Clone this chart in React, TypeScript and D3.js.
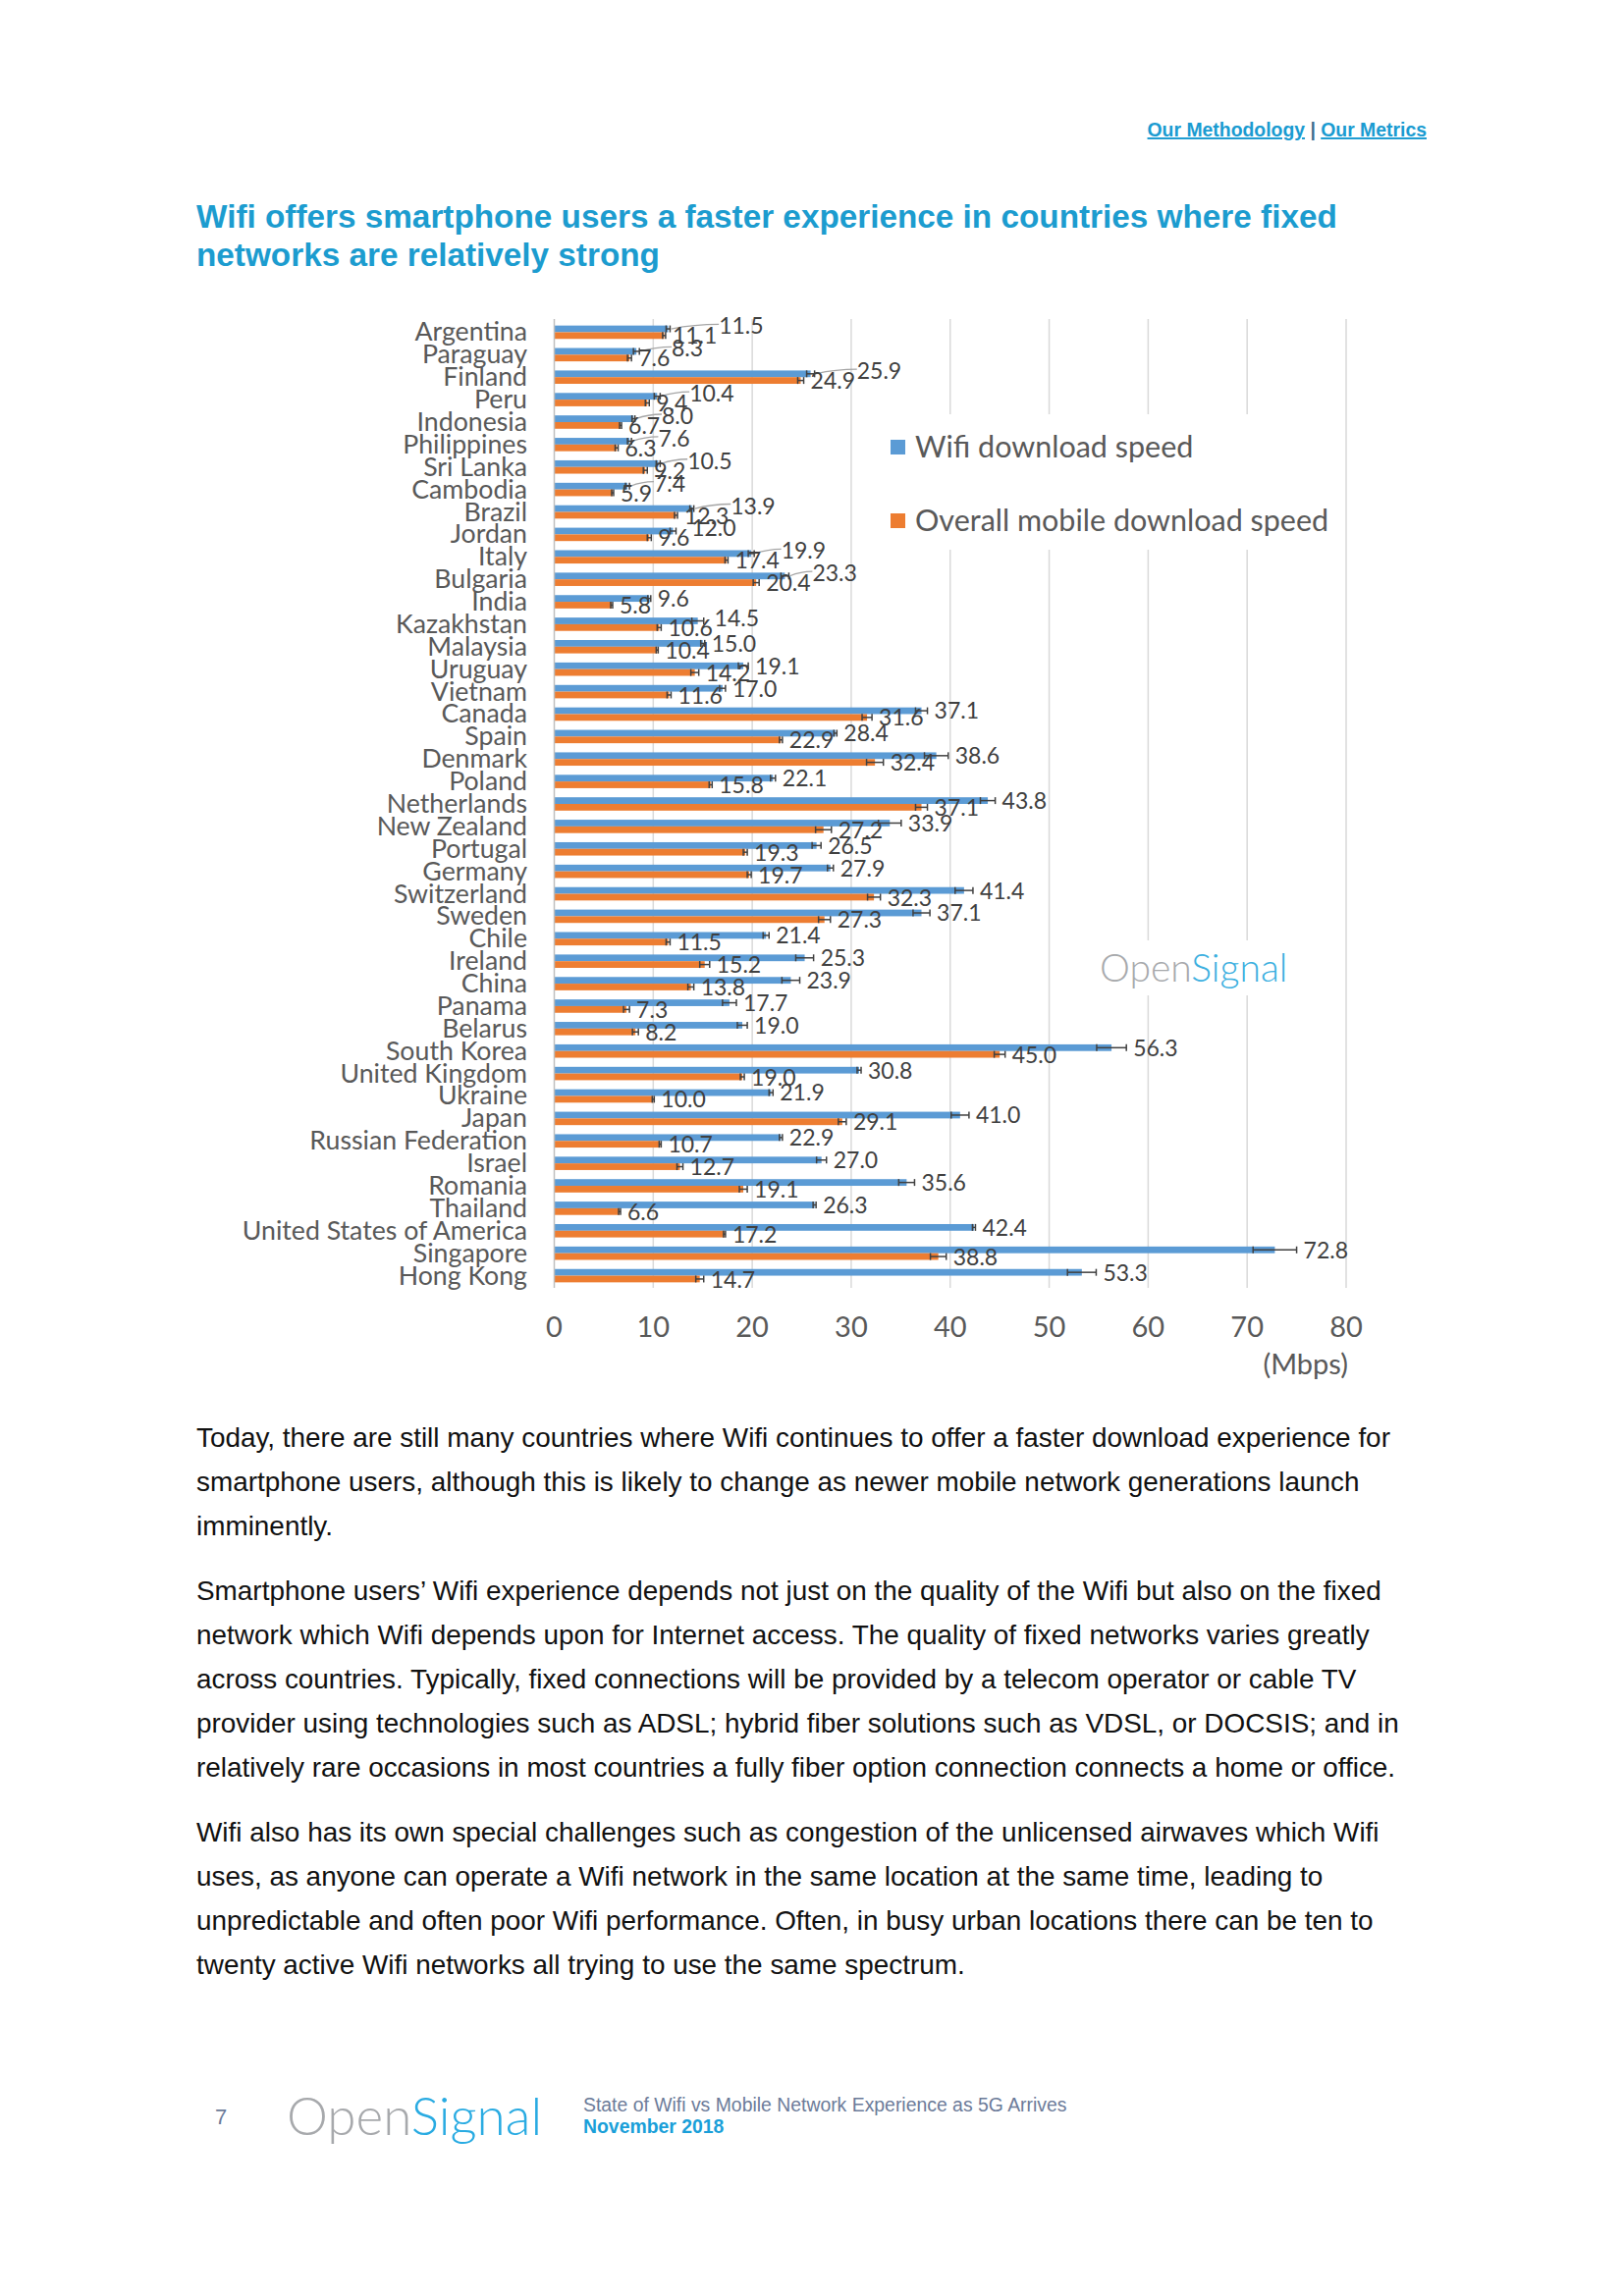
import React from 'react';
import * as d3 from 'd3';

const countries = [
  'Argentina', 'Paraguay', 'Finland', 'Peru', 'Indonesia', 'Philippines', 'Sri Lanka', 'Cambodia',
  'Brazil', 'Jordan', 'Italy', 'Bulgaria', 'India', 'Kazakhstan', 'Malaysia', 'Uruguay', 'Vietnam',
  'Canada', 'Spain', 'Denmark', 'Poland', 'Netherlands', 'New Zealand', 'Portugal', 'Germany',
  'Switzerland', 'Sweden', 'Chile', 'Ireland', 'China', 'Panama', 'Belarus', 'South Korea',
  'United Kingdom', 'Ukraine', 'Japan', 'Russian Federation', 'Israel', 'Romania', 'Thailand',
  'United States of America', 'Singapore', 'Hong Kong',
];

const wifiSpeed = [
  11.5, 8.3, 25.9, 10.4, 8.0, 7.6, 10.5, 7.4,
  13.9, 12.0, 19.9, 23.3, 9.6, 14.5, 15.0, 19.1, 17.0,
  37.1, 28.4, 38.6, 22.1, 43.8, 33.9, 26.5, 27.9,
  41.4, 37.1, 21.4, 25.3, 23.9, 17.7, 19.0, 56.3,
  30.8, 21.9, 41.0, 22.9, 27.0, 35.6, 26.3,
  42.4, 72.8, 53.3,
];

const mobileSpeed = [
  11.1, 7.6, 24.9, 9.4, 6.7, 6.3, 9.2, 5.9,
  12.3, 9.6, 17.4, 20.4, 5.8, 10.6, 10.4, 14.2, 11.6,
  31.6, 22.9, 32.4, 15.8, 37.1, 27.2, 19.3, 19.7,
  32.3, 27.3, 11.5, 15.2, 13.8, 7.3, 8.2, 45.0,
  19.0, 10.0, 29.1, 10.7, 12.7, 19.1, 6.6,
  17.2, 38.8, 14.7,
];

const wifiErr = [
  0.2, 0.3, 0.4, 0.3, 0.15, 0.2, 0.2, 0.2,
  0.2, 0.3, 0.3, 0.4, 0.15, 0.6, 0.2, 0.5, 0.3,
  0.6, 0.15, 1.2, 0.25, 0.75, 1.15, 0.45, 0.3,
  0.9, 0.85, 0.3, 0.9, 0.9, 0.7, 0.5, 1.5,
  0.2, 0.2, 0.9, 0.15, 0.5, 0.8, 0.15,
  0.15, 2.2, 1.45,
];

const mobileErr = [
  0.15, 0.2, 0.3, 0.2, 0.1, 0.15, 0.2, 0.1,
  0.15, 0.2, 0.15, 0.3, 0.1, 0.2, 0.1, 0.4, 0.2,
  0.5, 0.15, 0.85, 0.15, 0.6, 0.8, 0.2, 0.2,
  0.65, 0.6, 0.2, 0.5, 0.3, 0.3, 0.3, 0.55,
  0.2, 0.1, 0.4, 0.1, 0.3, 0.4, 0.1,
  0.1, 0.8, 0.4,
];

const xTicks = [0, 10, 20, 30, 40, 50, 60, 70, 80];
const seriesNames = ['Wifi download speed', 'Overall mobile download speed'];

const bodyParagraphs = [
  [
    'Today, there are still many countries where Wifi continues to offer a faster download experience for',
    'smartphone users, although this is likely to change as newer mobile network generations launch',
    'imminently.',
  ],
  [
    'Smartphone users\u2019 Wifi experience depends not just on the quality of the Wifi but also on the fixed',
    'network which Wifi depends upon for Internet access. The quality of fixed networks varies greatly',
    'across countries. Typically, fixed connections will be provided by a telecom operator or cable TV',
    'provider using technologies such as ADSL; hybrid fiber solutions such as VDSL, or DOCSIS; and in',
    'relatively rare occasions in most countries a fully fiber option connection connects a home or office.',
  ],
  [
    'Wifi also has its own special challenges such as congestion of the unlicensed airwaves which Wifi',
    'uses, as anyone can operate a Wifi network in the same location at the same time, leading to',
    'unpredictable and often poor Wifi performance. Often, in busy urban locations there can be ten to',
    'twenty active Wifi networks all trying to use the same spectrum.',
  ],
];

const BLUE = '#5B9BD5';
const ORANGE = '#ED7D31';
const TEAL = '#1C9CCF';
const CHART_FONT = 'Lato, Carlito, "Open Sans", sans-serif';
const ARIAL = '"Liberation Sans", Arial, sans-serif';

const LABEL_FS = 23;
const labelWidth = (s: string) => {
  let w = 0;
  for (const ch of s) w += ch === '.' ? 0.27 : 0.58;
  return w * LABEL_FS;
};

export default function App() {
  const x = d3.scaleLinear().domain([0, 80]).range([564.5, 1371]);
  const y = d3.scaleBand<string>().domain(countries).range([327, 1311]).padding(0);
  const barH = 6.8;
  const plotTop = 325;
  const plotBottom = 1312;

  const rows = countries.map((c, i) => {
    const cy = (y(c) as number) + y.bandwidth() / 2;
    const w = wifiSpeed[i];
    const m = mobileSpeed[i];
    const we = wifiErr[i];
    const me = mobileErr[i];
    const mLabel = m.toFixed(1);
    const wLabel = w.toFixed(1);
    const mx = x(m + me) + 7;
    const mRight = mx + labelWidth(mLabel);
    const wDefault = x(w + we) + 7;
    const pushed = mRight + 1 > wDefault;
    const wx = pushed ? mRight + 1 : wDefault;
    return { c, i, cy, w, m, we, me, mLabel, wLabel, mx, wx, pushed };
  });

  let lineY = 1474;
  const bodyLines: { t: string; y: number }[] = [];
  bodyParagraphs.forEach((p) => {
    p.forEach((t) => {
      bodyLines.push({ t, y: lineY });
      lineY += 44.8;
    });
    lineY += 22;
  });

  return (
    <svg
      width={1653}
      height={2339}
      viewBox="0 0 1653 2339"
      style={{ position: 'absolute', left: 0, top: 0, background: '#fff' }}
    >
      <rect x={0} y={0} width={1653} height={2339} fill="#fff" />

      {/* top links */}
      <text x={1453} y={139} textAnchor="end" fontFamily={ARIAL} fontWeight="bold" fontSize={19.4} fill="#1A9BD1">
        <tspan textDecoration="underline">Our Methodology</tspan>
        <tspan fill="#3d6f8f"> | </tspan>
        <tspan textDecoration="underline">Our Metrics</tspan>
      </text>

      {/* title */}
      <text fontFamily={ARIAL} fontWeight="bold" fontSize={33.3} fill={TEAL}>
        <tspan x={200} y={232}>Wifi offers smartphone users a faster experience in countries where fixed</tspan>
        <tspan x={200} y={271}>networks are relatively strong</tspan>
      </text>

      {/* gridlines */}
      <g>
        {xTicks.filter((t) => t > 0).map((t) => (
          <line key={t} x1={x(t)} x2={x(t)} y1={plotTop} y2={plotBottom} stroke="#D9D9D9" strokeWidth={1.5} />
        ))}
      </g>

      {/* legend box & watermark box (cover gridlines) */}
      <rect x={895} y={422} width={470} height={138} fill="#fff" />
      <rect x={1110} y={958} width={210} height={56} fill="#fff" />

      {/* bars */}
      <g>
        {rows.map((r) => (
          <g key={r.c}>
            <rect x={x(0)} y={r.cy - barH} width={x(r.w) - x(0)} height={barH} fill={BLUE} />
            <rect x={x(0)} y={r.cy} width={x(r.m) - x(0)} height={barH} fill={ORANGE} />
          </g>
        ))}
      </g>

      {/* axis line */}
      <line x1={x(0)} x2={x(0)} y1={plotTop} y2={plotBottom} stroke="#BFBFBF" strokeWidth={1.5} />

      {/* error bars */}
      <g stroke="#404040" strokeWidth={1.5}>
        {rows.map((r) => {
          const by = r.cy - barH / 2;
          const oy = r.cy + barH / 2;
          return (
            <g key={r.c}>
              <line x1={x(r.w - r.we)} x2={x(r.w + r.we)} y1={by} y2={by} />
              <line x1={x(r.w - r.we)} x2={x(r.w - r.we)} y1={by - 3.5} y2={by + 3.5} />
              <line x1={x(r.w + r.we)} x2={x(r.w + r.we)} y1={by - 3.5} y2={by + 3.5} />
              <line x1={x(r.m - r.me)} x2={x(r.m + r.me)} y1={oy} y2={oy} />
              <line x1={x(r.m - r.me)} x2={x(r.m - r.me)} y1={oy - 3.5} y2={oy + 3.5} />
              <line x1={x(r.m + r.me)} x2={x(r.m + r.me)} y1={oy - 3.5} y2={oy + 3.5} />
            </g>
          );
        })}
      </g>

      {/* leader lines */}
      <g stroke="#A6A6A6" strokeWidth={1.3} fill="none">
        {rows.filter((r) => r.pushed && r.wx - (x(r.w + r.we) + 7) > 10).map((r) => (
          <path
            key={r.c}
            d={`M${x(r.w + r.we) + 1},${r.cy - barH / 2} Q${(x(r.w + r.we) + r.wx) / 2},${r.cy - 8} ${r.wx},${r.cy - 8}`}
          />
        ))}
      </g>

      {/* data labels */}
      <g fontFamily={CHART_FONT} fontSize={LABEL_FS} fill="#404040">
        {rows.map((r) => (
          <g key={r.c}>
            <text x={r.mx} y={r.cy + 12}>{r.mLabel}</text>
            <text x={r.wx} y={r.pushed ? r.cy + 2 : r.cy + 5}>{r.wLabel}</text>
          </g>
        ))}
      </g>

      {/* category labels */}
      <g fontFamily={CHART_FONT} fontSize={26.7} fill="#595959" textAnchor="end">
        {rows.map((r) => (
          <text key={r.c} x={537} y={r.cy + 9}>{r.c}</text>
        ))}
      </g>

      {/* x ticks */}
      <g fontFamily={CHART_FONT} fontSize={29} fill="#595959" textAnchor="middle">
        {xTicks.map((t) => (
          <text key={t} x={x(t)} y={1362}>{t}</text>
        ))}
        <text x={1373} y={1400} textAnchor="end">(Mbps)</text>
      </g>

      {/* legend */}
      <g fontFamily={CHART_FONT} fontSize={30.5} fill="#595959">
        <rect x={907} y={448} width={15} height={15} fill={BLUE} />
        <text x={932} y={466}>{seriesNames[0]}</text>
        <rect x={907} y={523} width={15} height={15} fill={ORANGE} />
        <text x={932} y={541}>{seriesNames[1]}</text>
      </g>

      {/* watermark */}
      <text x={1120} y={1000} fontFamily={CHART_FONT} fontWeight={300} fontSize={39}>
        <tspan fill="#A7A9AC">Open</tspan>
        <tspan fill="#3BAFE0">Signal</tspan>
      </text>

      {/* body text */}
      <g fontFamily={ARIAL} fontSize={27.9} fill="#111">
        {bodyLines.map((l, k) => (
          <text key={k} x={200} y={l.y}>{l.t}</text>
        ))}
      </g>

      {/* footer */}
      <text x={219} y={2164} fontFamily={ARIAL} fontSize={22} fill="#6C7B99">7</text>
      <text x={292} y={2175} fontFamily={CHART_FONT} fontWeight={300} fontSize={53}>
        <tspan fill="#A7A9AC">Open</tspan>
        <tspan fill="#29ABE2">Signal</tspan>
      </text>
      <text x={594} y={2151} fontFamily={ARIAL} fontSize={19.4} fill="#6C7B99">
        State of Wifi vs Mobile Network Experience as 5G Arrives
      </text>
      <text x={594} y={2173} fontFamily={ARIAL} fontSize={19.4} fontWeight="bold" fill="#1A9FD9">
        November 2018
      </text>
    </svg>
  );
}
